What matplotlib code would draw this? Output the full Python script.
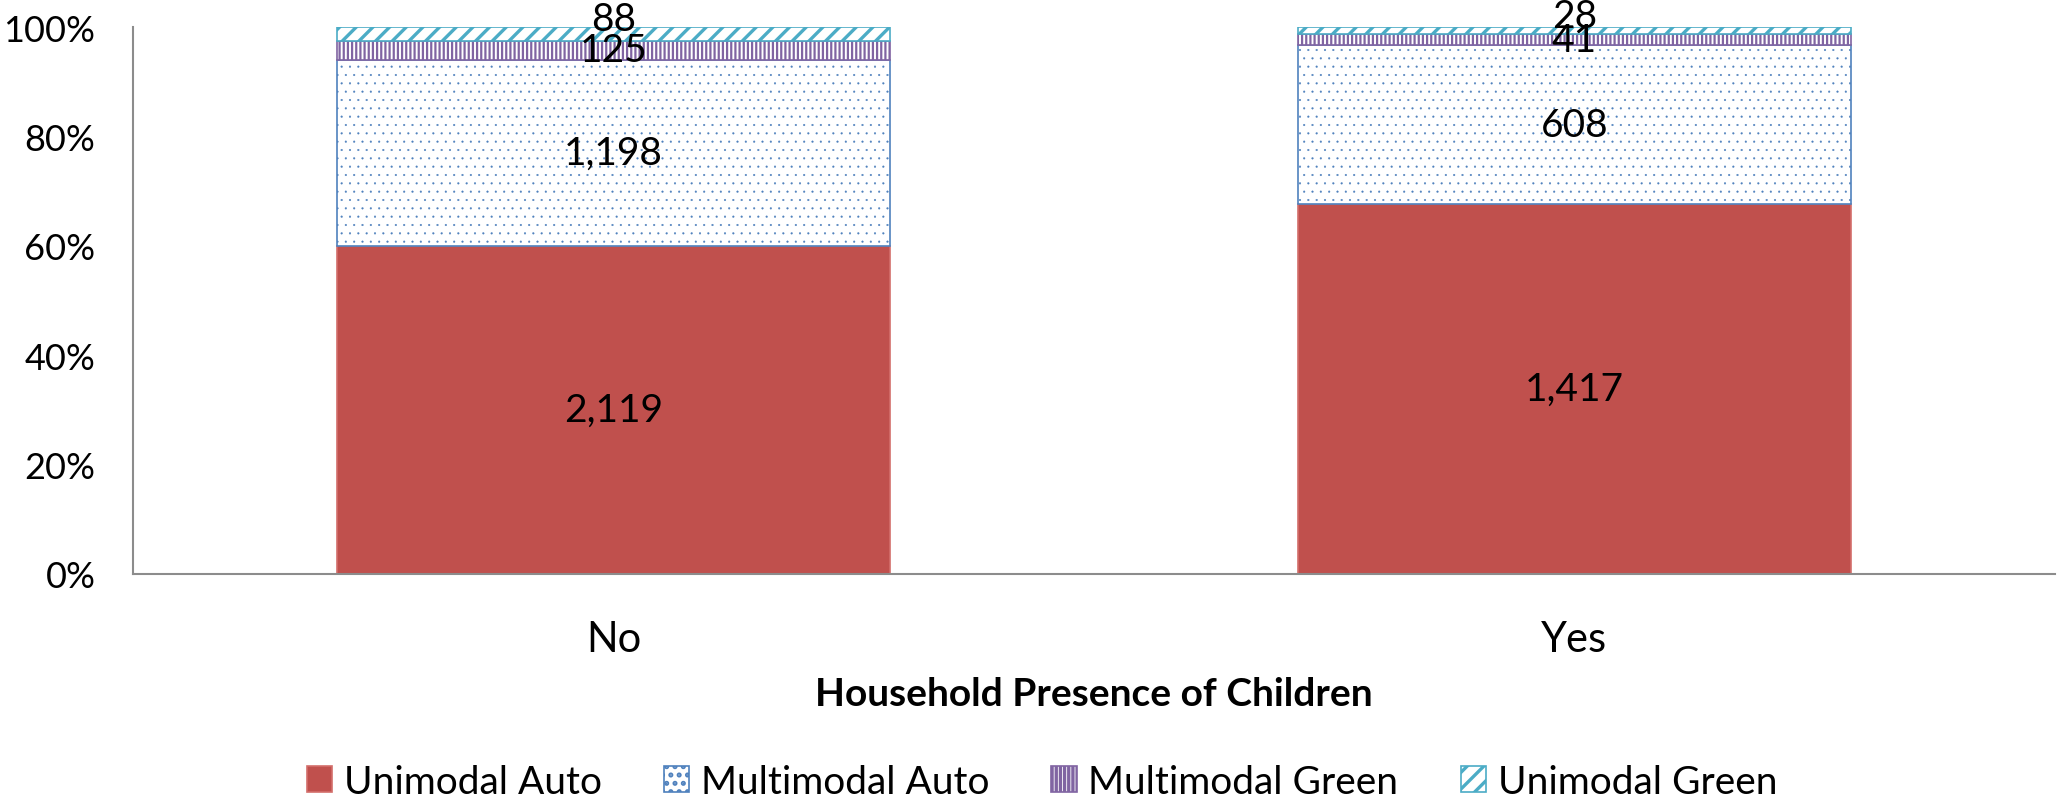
import matplotlib
matplotlib.use('Agg')
import matplotlib.pyplot as plt
import numpy as np

categories = ['No', 'Yes']
series_names = ['Unimodal Auto', 'Multimodal Auto', 'Multimodal Green', 'Unimodal Green']
unimodal_auto = [2119, 1417]
multimodal_auto = [1198, 608]
multimodal_green = [125, 41]
unimodal_green = [88, 28]
yticks = [0, 20, 40, 60, 80, 100]

plt.rcParams['font.family'] = ['Lato', 'DejaVu Sans']

series = [unimodal_auto, multimodal_auto, multimodal_green, unimodal_green]
faces = ['#C0504D', 'white', 'white', 'white']
edges = ['#D36E6B', '#4F81BD', '#8064A2', '#4BACC6']
hatches = [None, '..', '||||', '//']
hatch_lw = [1.0, 0.3, 1.6, 2.4]
# Excel pushed the top label up a little, the others sit in the middle
label_dy = [0, 0, 0, 11]

totals = np.sum(np.array(series, dtype=float), axis=0)

fig = plt.figure(figsize=(20.59, 8.04), dpi=100)
ax = fig.add_axes([0.0646, 0.285, 0.9334, 0.68])

x = np.arange(len(categories))
bottom = np.zeros(len(categories))
for i, (name, vals) in enumerate(zip(series_names, series)):
    plt.rcParams['hatch.linewidth'] = hatch_lw[i]
    pct = np.array(vals) / totals * 100
    bars = ax.bar(x, pct, 0.576, bottom=bottom, color=faces[i], edgecolor=edges[i],
                  hatch=hatches[i], linewidth=1.2, label=name)
    for b in bars:
        try:
            b.set_hatch_linewidth(hatch_lw[i])
        except AttributeError:
            pass
    for xi, b0, p, v in zip(x, bottom, pct, vals):
        ax.annotate(f'{v:,}', (xi, b0 + p / 2), xytext=(0, label_dy[i]),
                    textcoords='offset points', ha='center', va='center',
                    fontsize=28, color='black')
    bottom += pct

ax.set_xlim(-0.5, 1.5)
ax.set_ylim(0, 100)
ax.set_yticks(yticks)
ax.set_yticklabels([f'{t}%' for t in yticks], fontsize=26)
ax.set_xticks(x)
ax.set_xticklabels(categories, fontsize=30)
ax.tick_params(axis='y', length=0, pad=27)
ax.tick_params(axis='x', length=0, pad=33)
for s in ['top', 'right']:
    ax.spines[s].set_visible(False)
for s in ['left', 'bottom']:
    ax.spines[s].set_color('#8C8C8C')
    ax.spines[s].set_linewidth(1.5)

ax.set_xlabel('Household Presence of Children', fontsize=28, fontweight='bold', labelpad=13)

fig.legend(loc='center', bbox_to_anchor=(0.506, 0.026), ncol=4, frameon=False,
           fontsize=28, handlelength=0.65, handleheight=0.65, handletextpad=0.3,
           columnspacing=1.6)

fig.savefig('out.png', dpi=100)
